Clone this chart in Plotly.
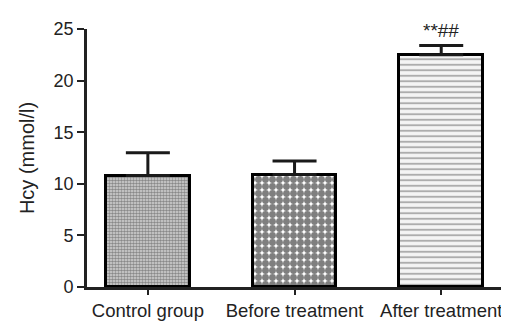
import plotly.graph_objects as go

categories = ["Control group", "Before treatment", "After treatment"]
means = [10.8, 10.9, 22.5]
errors = [2.2, 1.3, 0.9]
significance = ["", "", "**##"]
y_ticks = [0, 5, 10, 15, 20, 25]

patterns = [
    dict(shape=".", size=3, solidity=0.6, fgcolor="#3a3a3a", bgcolor="#d8d8d8", fillmode="overlay"),
    dict(shape=".", size=7, solidity=0.75, fgcolor="#000000", bgcolor="#ffffff", fillmode="overlay"),
    dict(shape="-", size=5.5, solidity=0.35, fgcolor="#666666", bgcolor="#f4f4f4", fillmode="overlay"),
]

fig = go.Figure()
for i, cat in enumerate(categories):
    fig.add_trace(go.Bar(
        x=[i], y=[means[i]], width=0.57,
        marker=dict(color="white", line=dict(color="black", width=3), pattern=patterns[i]),
        error_y=dict(type="data", symmetric=False, array=[errors[i]], arrayminus=[0],
                     color="#1a1a1a", thickness=3, width=22),
        showlegend=False,
    ))
    if significance[i]:
        fig.add_annotation(x=i, y=means[i] + errors[i], text=significance[i],
                           showarrow=False, yanchor="bottom", yshift=3,
                           font=dict(size=19, color="#222222"))

fig.update_layout(
    width=509, height=323,
    margin=dict(l=79, r=2, t=21, b=44),
    plot_bgcolor="white", paper_bgcolor="white",
    font=dict(family="Liberation Sans, Arial", size=18, color="#222222"),
    bargap=0,
)
fig.update_xaxes(
    range=[-0.415, 2.503], tickvals=list(range(len(categories))), ticktext=categories,
    showline=True, linecolor="#222222", linewidth=2.7, ticks="outside", ticklen=5,
    tickwidth=2, tickcolor="#222222", showgrid=False, zeroline=False,
    tickfont=dict(size=18.5),
)
fig.update_yaxes(
    range=[0, 25], tickvals=y_ticks, showline=True, linecolor="#222222", linewidth=2.7,
    ticks="outside", ticklen=7, tickwidth=2, tickcolor="#222222", showgrid=False,
    zeroline=False, title=dict(text="Hcy (mmol/l)", font=dict(size=20), standoff=14),
    tickfont=dict(size=18),
)
fig.write_html("out.html")
